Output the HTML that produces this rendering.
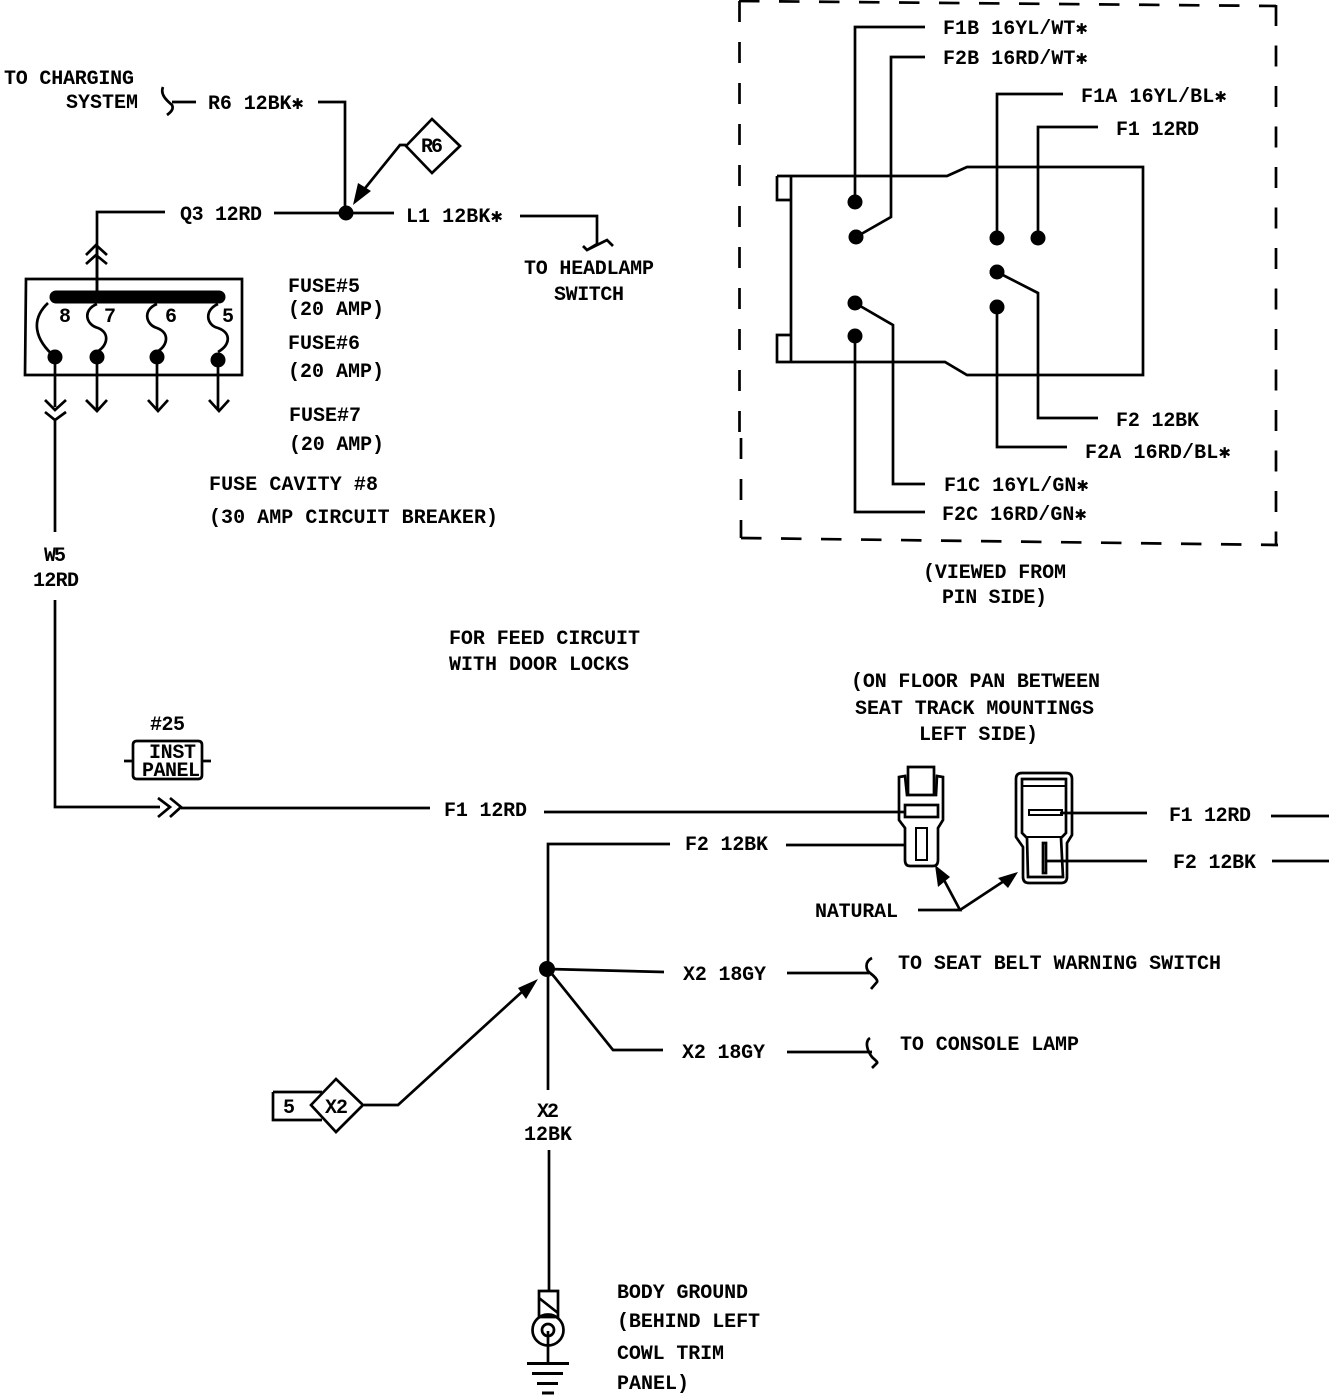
<!DOCTYPE html>
<html><head><meta charset="utf-8"><style>
html,body{margin:0;padding:0;background:#fff}
svg{display:block}
text{font-family:"Liberation Mono",monospace;font-weight:bold;font-size:20px;fill:#000}
.s{font-family:"DejaVu Sans",sans-serif;font-size:15px}
.w{fill:none;stroke:#000;stroke-width:2.7}
.t{fill:none;stroke:#000;stroke-width:2}
.b{fill:#000;stroke:none}
</style></head><body>
<svg width="1344" height="1396" viewBox="0 0 1344 1396" xmlns="http://www.w3.org/2000/svg">
<!-- dashed box -->
<path class="w" stroke-dasharray="21 20" d="M739.500 1V438"/>
<path class="w" stroke-dasharray="21 20" d="M741 438V538"/>
<path class="w" stroke-dasharray="20.500 19.500" d="M739 1L1276 6"/>
<path class="w" stroke-dasharray="21 19.500" d="M1276 5V545"/>
<path class="w" stroke-dasharray="20.500 19.500" d="M741 538L1278 545"/>
<!-- connector body -->
<path class="w" d="M791 176V361M777 176H947L967 167H1143V375H967L945 362H777V335H791M777 176V200H791"/>
<g class="b"><circle cx="855" cy="202" r="7.500"/><circle cx="856" cy="237" r="7.500"/><circle cx="997" cy="238" r="7.500"/><circle cx="1038" cy="238" r="7.500"/><circle cx="997" cy="272" r="7.500"/><circle cx="997" cy="307" r="7.500"/><circle cx="855" cy="303" r="7.500"/><circle cx="855" cy="336" r="7.500"/></g>
<path class="w" d="M855 202V27H925M856 237L891 217V57H925M997 238V94H1063M1038 238V127H1098M997 272L1038 293V418H1098M997 307V447H1067M855 303L893 325V484H925M855 336V512H925"/>
<!-- top left wiring -->
<path class="w" d="M163 87C160 94 166 100 172 105C174 109 171 112 167 115M172 102H196M318 102H345V213M97 297V212H165M274 213H394M520 216H597V244L587 250L583 246M587 250L607 240L613 246"/>
<circle class="b" cx="346" cy="213" r="7.500"/>
<path class="w" style="fill:#fff" d="M406 146L432 119L460 146L432 173Z"/>
<path class="w" d="M406 145H400L362 192"/>
<path class="b" d="M353 205L358 183L371 191Z"/>
<!-- fuse box -->
<path class="w" d="M26 279H242V375H25Z"/>
<path d="M56 297H219" stroke="#000" stroke-width="13" stroke-linecap="round"/>
<path class="w" d="M86 255L96 245L107 255M86 264L96 255L107 264"/>
<path class="w" d="M97 297V247"/>
<path class="w" d="M48 303C30 320 35 340 55 357M97 304C82 310 86 325 98 328C110 333 108 345 97 352M157 304C142 310 146 325 157 328C170 333 168 345 157 352M218 304C204 310 206 325 218 328C232 333 230 345 218 352"/>
<g class="b"><circle cx="55" cy="357" r="7.500"/><circle cx="97" cy="357" r="7.500"/><circle cx="157" cy="357" r="7.500"/><circle cx="218" cy="360" r="7.500"/></g>
<path class="w" d="M55 357V407M97 357V410M157 357V410M218 360V410"/>
<path class="w" d="M86 400L97 411L107 400M148 400L158 411L168 400M209 400L219 411L229 400M45 400L55 410L66 400M45 412L55 420L66 412M55 420V532M55 600V807H160M158 798L170 807L158 817M170 798L181 807L170 817M181 808H430M544 812H898"/>
<!-- inst panel -->
<path class="w" d="M137 741H198Q202 741 202 745V775Q202 779 198 779H137Q133 779 133 775V745Q133 741 137 741ZM124 761H133M202 761H211"/>
<!-- ground -->
<path class="w" d="M549 1150V1291M539 1291H558V1317H539ZM539 1298L558 1313"/>
<circle class="w" cx="548" cy="1330" r="15.500"/><circle class="w" cx="548" cy="1330" r="6"/>
<path class="w" d="M548 1331V1363"/>
<path d="M527 1363.500H569" stroke="#000" stroke-width="3"/><path d="M532 1373.500H563" stroke="#000" stroke-width="3"/><path d="M537 1383.500H558" stroke="#000" stroke-width="3"/><path d="M542 1393H554" stroke="#000" stroke-width="3"/>
<!-- centre junction -->
<path class="w" d="M548 1090V844H670M786 845H905M548 969L664 972M548 969L613 1050H663M787 973H869M872 958C864 962 866 970 870 973C874 976 878 980 877 982L871 989M787 1052H872M870 1038C864 1042 868 1052 872 1057C875 1060 878 1062 877 1063L872 1068"/>
<circle class="b" cx="547" cy="969" r="8"/>
<path class="w" d="M273 1092H322M273 1092V1120H322M364 1105H398L524 990"/>
<path class="b" d="M538 979L518 988L526 999Z"/>
<path class="w" style="fill:#fff" d="M311 1105L336 1079L363 1105L336 1132Z"/>
<!-- left plug -->
<path class="w" d="M899 777V820L905 828V860Q905 866 910 866H933Q938 866 938 860V828L943 820V777L937 776L936 795H907L905 776Z"/>
<path class="w" d="M908 795V767H934V795"/>
<rect class="w" x="905" y="805" width="33" height="12" style="fill:#fff"/>
<rect class="t" x="916" y="828" width="11" height="32"/>
<path class="w" d="M898 812H905"/>
<!-- right plug -->
<path class="w" d="M1016 779Q1016 773 1022 773H1066Q1072 773 1072 779V835L1067 843V877Q1067 883 1061 883H1029Q1023 883 1023 877V847L1016 837Z"/>
<path class="w" d="M1022 779H1066V833L1061 838L1063 877H1028L1027 838L1022 833Z"/>
<path class="t" d="M1022 786H1066M1027 837H1061"/>
<rect class="t" x="1029" y="810" width="33" height="5"/>
<rect class="w" x="1043" y="843" width="3" height="30"/>
<path class="w" d="M1060 813H1147M1047 861H1147"/>
<path class="w" d="M1271 816H1329M1272 861H1329"/>
<path class="b" d="M935 865L938 887L950 877ZM1018 872L998 878L1008 888Z"/>
<path class="w" d="M918 910H960L944 880M960 910L1004 881"/>
<!-- labels -->
<text x="4" y="84" textLength="130">TO CHARGING</text>
<text x="66" y="108" textLength="72">SYSTEM</text>
<text x="208" y="109" textLength="96">R6 12BK<tspan class="s">✱</tspan></text>
<text x="180" y="220" textLength="82">Q3 12RD</text>
<text x="406" y="222" textLength="97">L1 12BK<tspan class="s">✱</tspan></text>
<text x="421" y="152" textLength="22">R6</text>
<text x="524" y="274" textLength="130">TO HEADLAMP</text>
<text x="554" y="300" textLength="70">SWITCH</text>
<text x="59" y="322">8</text><text x="104" y="322">7</text><text x="165" y="322">6</text><text x="222" y="322">5</text>
<text x="288" y="292" textLength="72">FUSE#5</text>
<text x="288" y="315" textLength="96">(20 AMP)</text>
<text x="288" y="349" textLength="72">FUSE#6</text>
<text x="288" y="377" textLength="96">(20 AMP)</text>
<text x="289" y="421" textLength="72">FUSE#7</text>
<text x="289" y="450" textLength="95">(20 AMP)</text>
<text x="209" y="490" textLength="169">FUSE CAVITY #8</text>
<text x="209" y="523" textLength="289">(30 AMP CIRCUIT BREAKER)</text>
<text x="44" y="561" textLength="22">W5</text>
<text x="33" y="586" textLength="46">12RD</text>
<text x="449" y="644" textLength="191">FOR FEED CIRCUIT</text>
<text x="449" y="670" textLength="180">WITH DOOR LOCKS</text>
<text x="923" y="578" textLength="143">(VIEWED FROM</text>
<text x="942" y="603" textLength="105">PIN SIDE)</text>
<text x="851" y="687" textLength="249">(ON FLOOR PAN BETWEEN</text>
<text x="855" y="714" textLength="239">SEAT TRACK MOUNTINGS</text>
<text x="919" y="740" textLength="119">LEFT SIDE)</text>
<text x="150" y="730" textLength="35">#25</text>
<text x="149" y="758" textLength="47">INST</text>
<text x="142" y="776" textLength="58">PANEL</text>
<text x="444" y="816" textLength="83">F1 12RD</text>
<text x="685" y="850" textLength="83">F2 12BK</text>
<text x="1169" y="821" textLength="82">F1 12RD</text>
<text x="1173" y="868" textLength="83">F2 12BK</text>
<text x="815" y="917" textLength="83">NATURAL</text>
<text x="683" y="980" textLength="83">X2 18GY</text>
<text x="682" y="1058" textLength="83">X2 18GY</text>
<text x="898" y="969" textLength="323">TO SEAT BELT WARNING SWITCH</text>
<text x="900" y="1050" textLength="179">TO CONSOLE LAMP</text>
<text x="283" y="1113">5</text>
<text x="325" y="1113" textLength="23">X2</text>
<text x="537" y="1117" textLength="22">X2</text>
<text x="524" y="1140" textLength="48">12BK</text>
<text x="617" y="1298" textLength="131">BODY GROUND</text>
<text x="617" y="1327" textLength="143">(BEHIND LEFT</text>
<text x="617" y="1359" textLength="107">COWL TRIM</text>
<text x="617" y="1389" textLength="72">PANEL)</text>
<text x="943" y="34" textLength="145">F1B 16YL/WT<tspan class="s">✱</tspan></text>
<text x="943" y="64" textLength="145">F2B 16RD/WT<tspan class="s">✱</tspan></text>
<text x="1081" y="102" textLength="146">F1A 16YL/BL<tspan class="s">✱</tspan></text>
<text x="1116" y="135" textLength="83">F1 12RD</text>
<text x="1116" y="426" textLength="83">F2 12BK</text>
<text x="1085" y="458" textLength="146">F2A 16RD/BL<tspan class="s">✱</tspan></text>
<text x="944" y="491" textLength="145">F1C 16YL/GN<tspan class="s">✱</tspan></text>
<text x="942" y="520" textLength="145">F2C 16RD/GN<tspan class="s">✱</tspan></text>
</svg>
</body></html>
